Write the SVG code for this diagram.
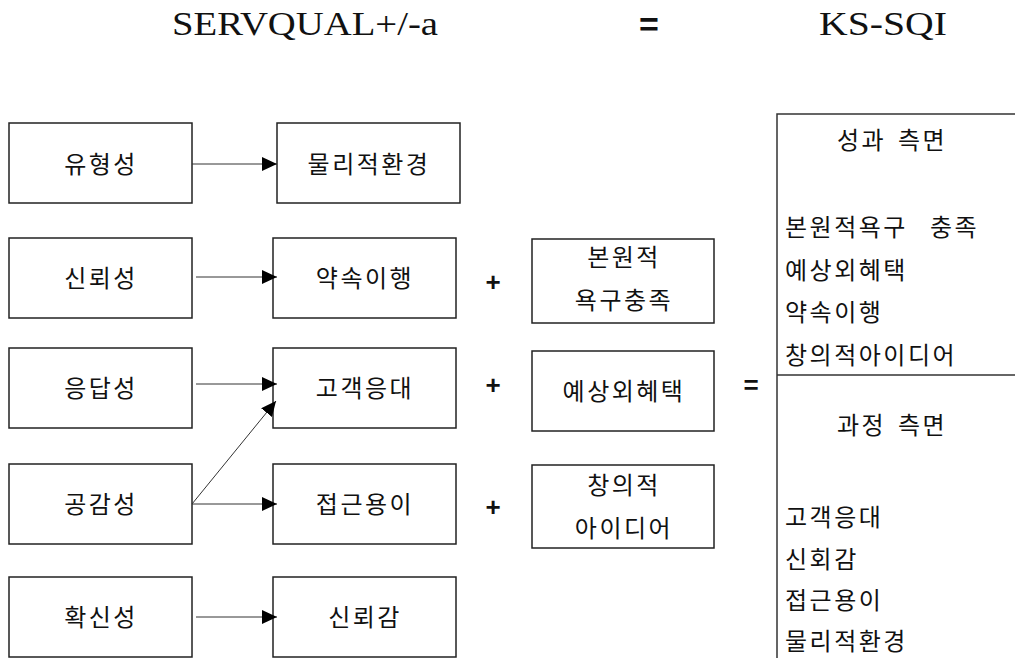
<svg xmlns="http://www.w3.org/2000/svg" width="1015" height="658" viewBox="0 0 1015 658">
<style>
.box{fill:#fff;stroke:#222;stroke-width:1.5}
.t{font-family:"Noto Sans CJK KR","Noto Sans",sans-serif;font-size:24px;fill:#111;letter-spacing:2.5px}
.c{text-anchor:middle}
.title{font-family:"Liberation Serif","DejaVu Serif",serif;font-size:34px;fill:#111}
.op{font-family:"Liberation Sans",sans-serif;font-weight:bold;fill:#111;text-anchor:middle}
.conn line{stroke:#333;stroke-width:1;marker-end:url(#ah)}
</style>
<defs>
<marker id="ah" markerUnits="userSpaceOnUse" markerWidth="15" markerHeight="14" refX="15" refY="7" orient="auto">
<path d="M0,0 L15,7 L0,14 z" fill="#000"/>
</marker>
</defs>
<rect width="1015" height="658" fill="#fff"/>
<g id="title">
<text class="title" x="172" y="35" textLength="266" lengthAdjust="spacingAndGlyphs">SERVQUAL+/-a</text>
<text class="op" x="649" y="36" font-size="34">=</text>
<text class="title" x="819" y="35" textLength="128" lengthAdjust="spacingAndGlyphs">KS-SQI</text>
</g>
<g id="n-yuhyeong"><rect class="box" x="9" y="123" width="183" height="80"/><text class="t c" x="101" y="173">유형성</text></g>
<g id="n-sinroe"><rect class="box" x="9" y="238" width="183" height="80"/><text class="t c" x="101" y="287">신뢰성</text></g>
<g id="n-eungdap"><rect class="box" x="9" y="348" width="183" height="80"/><text class="t c" x="101" y="397">응답성</text></g>
<g id="n-gonggam"><rect class="box" x="9" y="464" width="183" height="80"/><text class="t c" x="101" y="513">공감성</text></g>
<g id="n-hwaksin"><rect class="box" x="9" y="577" width="183" height="80"/><text class="t c" x="101" y="626">확신성</text></g>
<g id="n-mulli"><rect class="box" x="277" y="123" width="183" height="80"/><text class="t c" x="369" y="173">물리적환경</text></g>
<g id="n-yaksok"><rect class="box" x="273" y="238" width="183" height="80"/><text class="t c" x="365" y="287">약속이행</text></g>
<g id="n-gogaek"><rect class="box" x="273" y="348" width="183" height="80"/><text class="t c" x="365" y="397">고객응대</text></g>
<g id="n-jeopgeun"><rect class="box" x="273" y="464" width="183" height="80"/><text class="t c" x="365" y="513">접근용이</text></g>
<g id="n-sinroegam"><rect class="box" x="273" y="577" width="183" height="80"/><text class="t c" x="365" y="626">신뢰감</text></g>
<g id="n-bonwon"><rect class="box" x="532" y="239" width="182" height="84"/><text class="t c" x="624" y="266">본원적</text><text class="t c" x="624" y="309">욕구충족</text></g>
<g id="n-yesang"><rect class="box" x="532" y="351" width="182" height="80"/><text class="t c" x="624" y="400">예상외혜택</text></g>
<g id="n-changui"><rect class="box" x="532" y="465" width="182" height="83"/><text class="t c" x="624" y="494">창의적</text><text class="t c" x="624" y="537">아이디어</text></g>
<g id="ops">
<text class="op" x="493" y="291" font-size="26">+</text>
<text class="op" x="493" y="394" font-size="26">+</text>
<text class="op" x="493" y="516" font-size="26">+</text>
<text class="op" x="751" y="394" font-size="26">=</text>
</g>
<g id="n-kssqi">
<path d="M777,658 V114 H1015" fill="none" stroke="#333" stroke-width="1.5"/>
<line x1="777" y1="375" x2="1015" y2="375" stroke="#333" stroke-width="1.5"/>
<text class="t" y="149"><tspan x="837">성과</tspan><tspan x="898">측면</tspan></text>
<text class="t" y="236"><tspan x="785">본원적욕구</tspan><tspan x="930">충족</tspan></text>
<text class="t" x="785" y="279">예상외혜택</text>
<text class="t" x="785" y="321">약속이행</text>
<text class="t" x="785" y="364">창의적아이디어</text>
<text class="t" y="434"><tspan x="837">과정</tspan><tspan x="898">측면</tspan></text>
<text class="t" x="785" y="526">고객응대</text>
<text class="t" x="785" y="568">신회감</text>
<text class="t" x="785" y="609">접근용이</text>
<text class="t" x="785" y="650">물리적환경</text>
</g>
<g id="connectors" class="conn">
<line x1="192" y1="164" x2="277" y2="164"/>
<line x1="196" y1="277" x2="277" y2="277"/>
<line x1="196" y1="384" x2="277" y2="384"/>
<line x1="192" y1="504" x2="276" y2="401"/>
<line x1="192" y1="504" x2="277" y2="504"/>
<line x1="196" y1="617" x2="277" y2="617"/>
</g>
</svg>
